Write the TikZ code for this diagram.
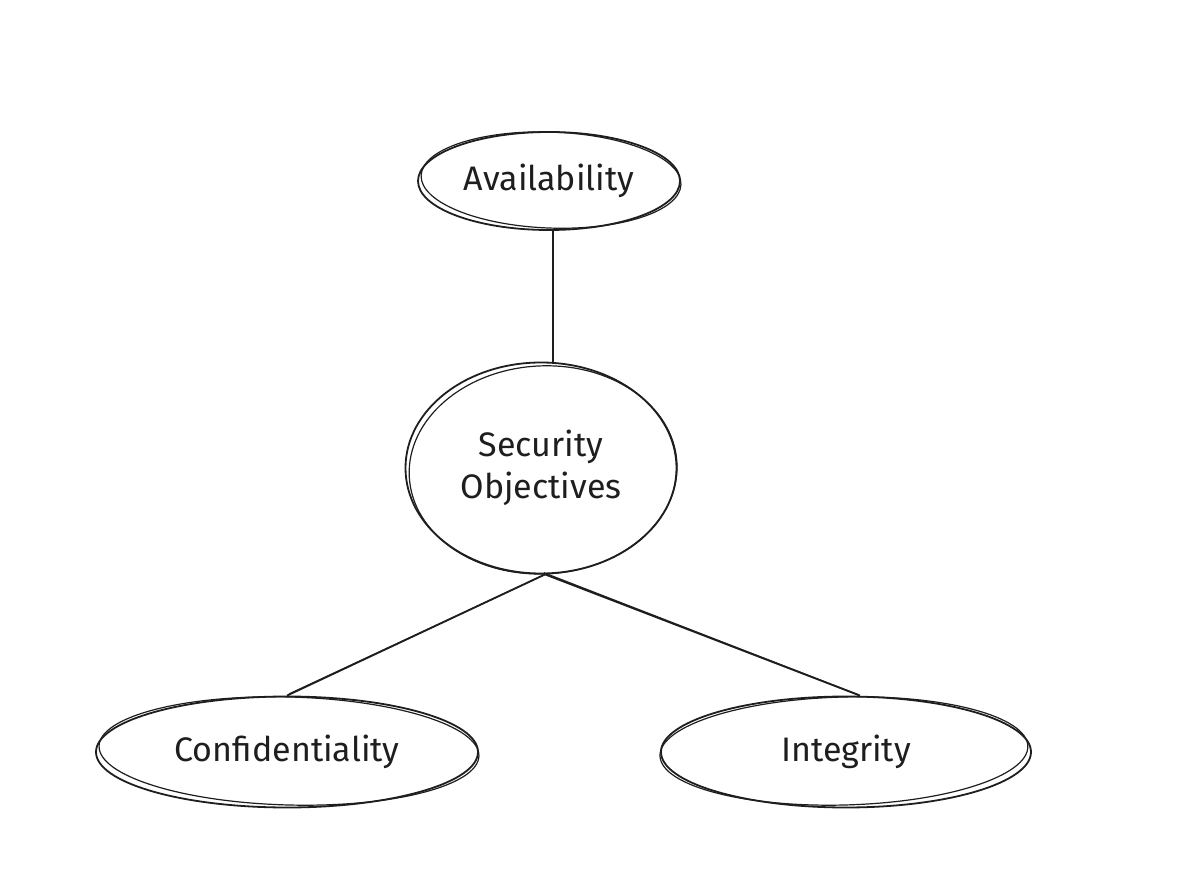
\documentclass[tikz,border=0pt]{standalone}
\usepackage{fontspec}
\setmainfont{Fira Sans}
\usetikzlibrary{shapes.geometric}
\definecolor{ink}{HTML}{1E1E1E}
\tikzset{
  ell/.style={ellipse, draw=ink, line width=0.9pt, inner sep=0pt, text=ink,
    font=\fontsize{17}{21}\selectfont, align=center},
  sketch/.style={draw=ink, line width=0.6pt},
  link/.style={draw=ink, line width=0.9pt}
}
\begin{document}
\begin{tikzpicture}[x=0.5pt,y=-0.5pt]
\useasboundingbox (0,0) rectangle (1200,881);
\fill[white] (0,0) rectangle (1200,881);
\node[ell, minimum width=131pt, minimum height=49pt] (avail) at (549,181) {Availability};
\node[ell, minimum width=135.5pt, minimum height=105.5pt] (sec) at (541,468) {Security\\Objectives};
\node[ell, minimum width=191pt, minimum height=55.5pt] (conf) at (287,752) {Confidentiality};
\node[ell, minimum width=185pt, minimum height=55.5pt] (integ) at (846,752) {Integrity};
% second sketch strokes
\draw[sketch, rotate around={-2:(avail.center)}] ([xshift=1pt,yshift=0.5pt]avail.center) ellipse [x radius=65pt, y radius=24pt];
\draw[sketch, rotate around={3:(sec.center)}] ([xshift=1pt,yshift=-1pt]sec.center) ellipse [x radius=67pt, y radius=52pt];
\draw[sketch, rotate around={-1.5:(conf.center)}] ([xshift=1pt,yshift=0.5pt]conf.center) ellipse [x radius=95pt, y radius=27pt];
\draw[sketch, rotate around={1.5:(integ.center)}] ([xshift=-1pt,yshift=0.5pt]integ.center) ellipse [x radius=92pt, y radius=27pt];
% connectors
\draw[link] ([xshift=2pt]avail.south) -- ([xshift=6pt]sec.north);
\draw[link] ([xshift=2pt]sec.south) -- (conf.north);
\draw[sketch] ([xshift=2.8pt,yshift=0.3pt]sec.south) -- ([xshift=1pt,yshift=0.8pt]conf.north);
\draw[link] ([xshift=2pt]sec.south) -- ([xshift=7pt]integ.north);
\draw[sketch] ([xshift=1.5pt,yshift=0.8pt]sec.south) -- ([xshift=6pt,yshift=0.5pt]integ.north);
\end{tikzpicture}
\end{document}
